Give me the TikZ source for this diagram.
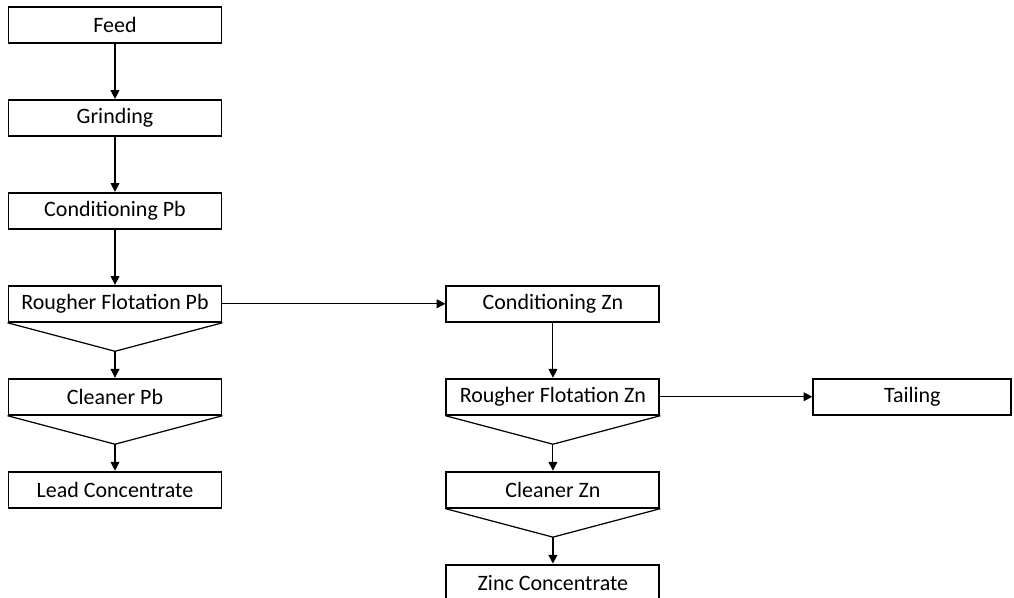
\documentclass[tikz,border=0pt]{standalone}
\usepackage{fontspec}
\setmainfont{Carlito}
\usetikzlibrary{arrows.meta, positioning}

\begin{document}
\begin{tikzpicture}[
		unit/.style={draw,rectangle,line width=1.1pt,minimum width=4.26cm,minimum height=.72cm,inner sep=0pt,align=center,font=\fontsize{12.5}{14}\selectfont},
		flow/.style={-{Triangle[length=5pt,width=5pt]},line width=.6pt},
		cone/.style={line width=.7pt},
		node distance=1.1cm
		]
		\useasboundingbox (0,0) rectangle (20.28,-11.94);
		% lead line
		\node (feed) [unit] at (2.3,-.5) {Feed};
		\node (grind) [below=of feed,unit] {Grinding};
		\node (condpb) [below=of grind,unit] {Conditioning Pb};
		\node (roughpb) [below=of condpb,unit] {Rougher Flotation Pb};
		\node (cleanpb) [below=of roughpb,unit] {Cleaner Pb};
		\node (leadc) [below=of cleanpb,unit] {Lead Concentrate};
		% zinc line
		\node (condzn) [right=4.46cm of roughpb,unit] {Conditioning Zn};
		\node (roughzn) [below=of condzn,unit] {Rougher Flotation Zn};
		\node (cleanzn) [below=of roughzn,unit] {Cleaner Zn};
		\node (zincc) [below=of cleanzn,unit] {Zinc Concentrate};
		\node (tail) [right=3.04cm of roughzn,unit,minimum width=3.96cm] {Tailing};
		\coordinate [below=.57cm of roughpb] (tip1);
		\coordinate [below=.57cm of cleanpb] (tip2);
		\coordinate [below=.57cm of roughzn] (tip3);
		\coordinate [below=.57cm of cleanzn] (tip4);
		\draw [flow] (feed) -- (grind);
		\draw [flow] (grind) -- (condpb);
		\draw [flow] (condpb) -- (roughpb);
		\draw [flow] (roughpb) -- (condzn);
		\draw [flow] (condzn) -- (roughzn);
		\draw [flow] (roughzn) -- (tail);
		\draw [cone] (roughpb.south west) -- (tip1) -- (roughpb.south east);
		\draw [flow] (tip1) -- (cleanpb);
		\draw [cone] (cleanpb.south west) -- (tip2) -- (cleanpb.south east);
		\draw [flow] (tip2) -- (leadc);
		\draw [cone] (roughzn.south west) -- (tip3) -- (roughzn.south east);
		\draw [flow] (tip3) -- (cleanzn);
		\draw [cone] (cleanzn.south west) -- (tip4) -- (cleanzn.south east);
		\draw [flow,line width=1.1pt] (tip4) -- (zincc);
	\end{tikzpicture}
\end{document}
